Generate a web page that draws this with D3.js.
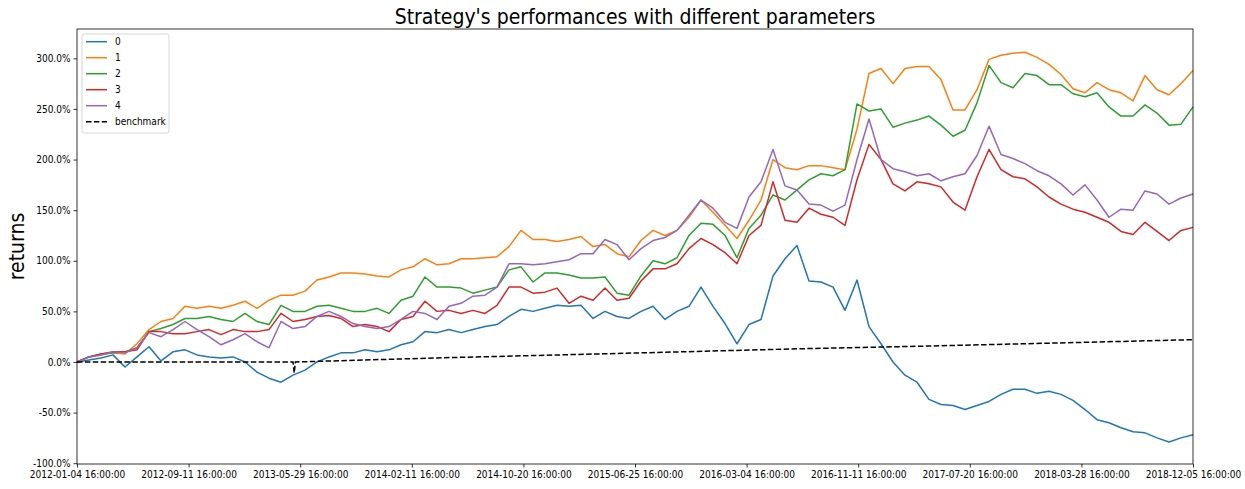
<!DOCTYPE html>
<html lang="en">
<head>
  <meta charset="UTF-8">
  <title>Strategy's performances with different parameters</title>
  <script src="https://d3js.org/d3.v7.min.js"></script>
  <style>
    body { margin: 0; background: #fff; }
    svg text { font-family: "DejaVu Sans Condensed", "DejaVu Sans", sans-serif; font-stretch: condensed; fill: #000; }
    .tick text { font-size: 10px; }
    .title { font-size: 21px; }
    .ylabel { font-size: 21px; }
    .legend text { font-size: 10px; }
  </style>
</head>
<body>
<div id="chart"></div>
<script>
// tick labels on the x axis (trading days, evenly spaced)
const dateLabels = ["2012-01-04 16:00:00", "2012-09-11 16:00:00", "2013-05-29 16:00:00",
  "2014-02-11 16:00:00", "2014-10-20 16:00:00", "2015-06-25 16:00:00", "2016-03-04 16:00:00",
  "2016-11-11 16:00:00", "2017-07-20 16:00:00", "2018-03-28 16:00:00", "2018-12-05 16:00:00"];

const seriesNames = ["0", "1", "2", "3", "4"];

// cumulative returns in % at evenly spaced samples
const s0 = [0, 2, 4, 7, -5, 5, 15, 1, 10, 12, 7, 5, 4, 5, 0, -10, -16, -20, -13, -8,
  0, 5, 9, 9, 12, 10, 12, 17, 20, 30, 29, 32, 29, 32, 35, 37, 45, 52, 50, 53,
  56, 55, 56, 43, 50, 45, 43, 50, 55, 42, 50, 55, 74, 55, 38, 18, 37, 42, 85, 102,
  115, 80, 79, 74, 51, 81, 35, 18, 0, -13, -20, -37, -42, -43, -47, -43, -39, -32, -27, -27,
  -31, -29, -32, -38, -47, -57, -60, -65, -69, -70, -75, -79, -75, -72];
const s1 = [0, 5, 7, 9, 8, 18, 32, 40, 43, 55, 53, 55, 53, 56, 60, 53, 61, 66, 66, 70,
  81, 84, 88, 88, 87, 85, 84, 91, 94, 102, 96, 97, 102, 102, 103, 104, 114, 130, 121, 121,
  119, 121, 124, 114, 116, 107, 104, 120, 130, 125, 130, 143, 160, 148, 135, 122, 140, 160, 200, 192,
  190, 194, 194, 192, 190, 230, 285, 290, 275, 290, 292, 292, 279, 249, 249, 269, 299, 303, 305, 306,
  301, 294, 284, 270, 266, 276, 269, 266, 258, 283, 269, 264, 275, 288];
const s2 = [0, 5, 8, 9, 10, 14, 30, 33, 37, 43, 43, 45, 42, 40, 48, 40, 37, 56, 50, 50,
  55, 56, 53, 50, 50, 53, 48, 61, 65, 84, 74, 74, 73, 68, 71, 74, 91, 94, 79, 88,
  88, 86, 83, 83, 84, 68, 66, 85, 100, 97, 103, 125, 137, 136, 125, 103, 132, 145, 165, 160,
  170, 180, 186, 184, 190, 255, 248, 250, 232, 236, 239, 243, 234, 223, 229, 256, 293, 276, 271, 285,
  283, 274, 274, 265, 262, 266, 252, 243, 243, 254, 246, 234, 235, 252];
const s3 = [0, 5, 8, 10, 10, 12, 30, 30, 28, 28, 30, 32, 27, 32, 30, 30, 32, 48, 40, 42,
  45, 46, 43, 35, 37, 35, 30, 42, 45, 60, 50, 51, 48, 51, 48, 56, 74, 74, 68, 69,
  73, 58, 65, 61, 73, 61, 63, 80, 92, 92, 97, 112, 122, 116, 108, 97, 125, 135, 178, 140,
  138, 152, 146, 143, 135, 180, 215, 200, 176, 169, 178, 176, 173, 158, 150, 183, 210, 190, 183, 181,
  173, 163, 156, 151, 148, 143, 138, 129, 126, 138, 129, 120, 130, 133];
const s4 = [0, 5, 7, 10, 9, 14, 29, 25, 32, 40, 32, 25, 17, 22, 28, 20, 14, 40, 33, 35,
  45, 50, 45, 38, 35, 33, 35, 42, 50, 48, 42, 55, 58, 65, 66, 74, 97, 97, 96, 97,
  99, 101, 107, 107, 121, 116, 101, 112, 120, 123, 130, 145, 160, 152, 138, 132, 163, 178, 210, 174,
  170, 156, 155, 149, 155, 200, 240, 200, 191, 188, 184, 186, 179, 183, 186, 204, 233, 205, 201, 196,
  189, 184, 176, 165, 175, 160, 143, 151, 150, 169, 166, 156, 162, 166];

// benchmark: sample positions (same index units) and values
const benchPos = [0, 18, 18.1, 18.2, 30, 47, 60, 70, 93];
const benchVals = [0, 0, -11, 0, 4, 9, 13, 15.5, 22];

const yTicks = [-100, -50, 0, 50, 100, 150, 200, 250, 300];
const colors = ["#1f77b4", "#ff7f0e", "#2ca02c", "#d62728", "#9467bd"];

const W = 1245, H = 489;
const margin = { top: 29, right: 52, bottom: 25, left: 77 };
const innerW = W - margin.left - margin.right;
const innerH = H - margin.top - margin.bottom;

const allSeries = [s0, s1, s2, s3, s4];
const nPts = s0.length;

const x = d3.scaleLinear().domain([0, nPts - 1]).range([0, innerW]);
const y = d3.scaleLinear().domain([-100.8, 329]).range([innerH, 0]);

const svg = d3.select("#chart").append("svg")
  .attr("width", W).attr("height", H);

const g = svg.append("g")
  .attr("transform", "translate(" + margin.left + "," + margin.top + ")");

// lines
const line = d3.line().x((d, i) => x(i)).y(d => y(d));
allSeries.forEach((s, k) => {
  g.append("path")
    .datum(s)
    .attr("fill", "none")
    .attr("stroke", colors[k])
    .attr("stroke-width", 1.5)
    .attr("stroke-linejoin", "round")
    .attr("d", line);
});

const benchLine = d3.line().x(d => x(d[0])).y(d => y(d[1]));
g.append("path")
  .datum(benchPos.map((p, i) => [p, benchVals[i]]))
  .attr("fill", "none")
  .attr("stroke", "#000")
  .attr("stroke-width", 1.5)
  .attr("stroke-dasharray", "5.5,2.4")
  .attr("d", benchLine);

// axes
const xTickPos = dateLabels.map((d, i) => i * (nPts - 1) / (dateLabels.length - 1));
const xAxis = d3.axisBottom(x)
  .tickValues(xTickPos)
  .tickFormat((d, i) => dateLabels[i])
  .tickSizeInner(3.5).tickSizeOuter(0).tickPadding(3);
g.append("g")
  .attr("transform", "translate(0," + innerH + ")")
  .call(xAxis);

const yAxis = d3.axisLeft(y)
  .tickValues(yTicks)
  .tickFormat(d => d.toFixed(1) + "%")
  .tickSizeInner(3.5).tickSizeOuter(0).tickPadding(3);
g.append("g").call(yAxis);

g.selectAll(".domain").remove();
g.selectAll(".tick line").attr("stroke", "#000").attr("stroke-width", 0.8);

// frame
g.append("rect")
  .attr("width", innerW).attr("height", innerH)
  .attr("fill", "none").attr("stroke", "#000").attr("stroke-width", 0.8);

// title and y label
svg.append("text")
  .attr("class", "title")
  .attr("x", margin.left + innerW / 2)
  .attr("y", 24)
  .attr("text-anchor", "middle")
  .text("Strategy's performances with different parameters");

svg.append("text")
  .attr("class", "ylabel")
  .attr("transform", "translate(24," + (margin.top + innerH / 2) + ") rotate(-90)")
  .attr("text-anchor", "middle")
  .text("returns");

// legend
const legendItems = seriesNames.map((n, i) => ({ name: n, color: colors[i], dash: null }))
  .concat([{ name: "benchmark", color: "#000", dash: "5.5,2.4" }]);
const legend = svg.append("g").attr("class", "legend")
  .attr("transform", "translate(82,34)");
legend.append("rect")
  .attr("width", 87).attr("height", 99)
  .attr("rx", 2.5)
  .attr("fill", "#fff").attr("fill-opacity", 0.8)
  .attr("stroke", "#ccc").attr("stroke-width", 0.8);
const rows = legend.selectAll(".row").data(legendItems).enter().append("g")
  .attr("class", "row")
  .attr("transform", (d, i) => "translate(0," + (7.7 + i * 16) + ")");
rows.append("line")
  .attr("x1", 4).attr("x2", 25)
  .attr("stroke", d => d.color).attr("stroke-width", 1.5)
  .attr("stroke-dasharray", d => d.dash);
rows.append("text")
  .attr("x", 33).attr("y", 3.5)
  .text(d => d.name);
</script>
</body>
</html>
